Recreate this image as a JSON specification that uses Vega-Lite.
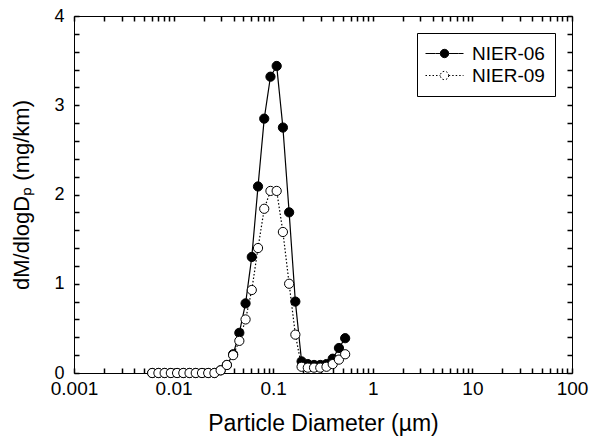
{
  "$schema": "https://vega.github.io/schema/vega-lite/v6.json",
  "width": 498,
  "height": 357,
  "autosize": "none",
  "padding": {"left": 74, "top": 16, "right": 27, "bottom": 63},
  "background": "white",
  "config": {
    "font": "Liberation Sans",
    "view": {"stroke": "black", "strokeWidth": 1},
    "legend": {
      "orient": "none",
      "legendX": 343,
      "legendY": 17,
      "strokeColor": "black",
      "fillColor": "white",
      "padding": 10,
      "labelFont": "Liberation Sans",
      "labelFontSize": 19,
      "labelColor": "black",
      "symbolType": "M-1.9,0H-0.42M0.42,0H1.9M0.42,0A0.42,0.42,0,1,1,-0.42,0A0.42,0.42,0,1,1,0.42,0Z",
      "symbolSize": 400,
      "symbolOffset": 7,
      "symbolStrokeColor": "black",
      "symbolStrokeWidth": 1,
      "labelOffset": 17,
      "rowPadding": 1
    }
  },
  "data": {
    "values": [
      {"series": "NIER-06", "d": 0.006095, "v": 0},
      {"series": "NIER-06", "d": 0.00704, "v": 0},
      {"series": "NIER-06", "d": 0.008128, "v": 0},
      {"series": "NIER-06", "d": 0.009386, "v": 0},
      {"series": "NIER-06", "d": 0.010839, "v": 0},
      {"series": "NIER-06", "d": 0.012516, "v": 0},
      {"series": "NIER-06", "d": 0.014454, "v": 0},
      {"series": "NIER-06", "d": 0.016691, "v": 0},
      {"series": "NIER-06", "d": 0.019275, "v": 0},
      {"series": "NIER-06", "d": 0.022258, "v": 0},
      {"series": "NIER-06", "d": 0.025704, "v": 0},
      {"series": "NIER-06", "d": 0.029683, "v": 0.03},
      {"series": "NIER-06", "d": 0.034277, "v": 0.09},
      {"series": "NIER-06", "d": 0.039582, "v": 0.21},
      {"series": "NIER-06", "d": 0.045709, "v": 0.45},
      {"series": "NIER-06", "d": 0.052783, "v": 0.78},
      {"series": "NIER-06", "d": 0.060954, "v": 1.3},
      {"series": "NIER-06", "d": 0.070388, "v": 2.09},
      {"series": "NIER-06", "d": 0.081283, "v": 2.85},
      {"series": "NIER-06", "d": 0.093864, "v": 3.32},
      {"series": "NIER-06", "d": 0.108393, "v": 3.44},
      {"series": "NIER-06", "d": 0.125171, "v": 2.75},
      {"series": "NIER-06", "d": 0.144544, "v": 1.8},
      {"series": "NIER-06", "d": 0.166916, "v": 0.8},
      {"series": "NIER-06", "d": 0.192752, "v": 0.13},
      {"series": "NIER-06", "d": 0.222584, "v": 0.1},
      {"series": "NIER-06", "d": 0.25704, "v": 0.09},
      {"series": "NIER-06", "d": 0.29683, "v": 0.09},
      {"series": "NIER-06", "d": 0.342768, "v": 0.1},
      {"series": "NIER-06", "d": 0.395822, "v": 0.16},
      {"series": "NIER-06", "d": 0.457088, "v": 0.28},
      {"series": "NIER-06", "d": 0.527837, "v": 0.39},
      {"series": "NIER-09", "d": 0.006095, "v": 0},
      {"series": "NIER-09", "d": 0.00704, "v": 0},
      {"series": "NIER-09", "d": 0.008128, "v": 0},
      {"series": "NIER-09", "d": 0.009386, "v": 0},
      {"series": "NIER-09", "d": 0.010839, "v": 0},
      {"series": "NIER-09", "d": 0.012516, "v": 0},
      {"series": "NIER-09", "d": 0.014454, "v": 0},
      {"series": "NIER-09", "d": 0.016691, "v": 0},
      {"series": "NIER-09", "d": 0.019275, "v": 0},
      {"series": "NIER-09", "d": 0.022258, "v": 0},
      {"series": "NIER-09", "d": 0.025704, "v": 0},
      {"series": "NIER-09", "d": 0.029683, "v": 0.03},
      {"series": "NIER-09", "d": 0.034277, "v": 0.09},
      {"series": "NIER-09", "d": 0.039582, "v": 0.2},
      {"series": "NIER-09", "d": 0.045709, "v": 0.36},
      {"series": "NIER-09", "d": 0.052783, "v": 0.6},
      {"series": "NIER-09", "d": 0.060954, "v": 0.93},
      {"series": "NIER-09", "d": 0.070388, "v": 1.4},
      {"series": "NIER-09", "d": 0.081283, "v": 1.84},
      {"series": "NIER-09", "d": 0.093864, "v": 2.04},
      {"series": "NIER-09", "d": 0.108393, "v": 2.04},
      {"series": "NIER-09", "d": 0.125171, "v": 1.58},
      {"series": "NIER-09", "d": 0.144544, "v": 1.0},
      {"series": "NIER-09", "d": 0.166916, "v": 0.43},
      {"series": "NIER-09", "d": 0.192752, "v": 0.07},
      {"series": "NIER-09", "d": 0.222584, "v": 0.06},
      {"series": "NIER-09", "d": 0.25704, "v": 0.06},
      {"series": "NIER-09", "d": 0.29683, "v": 0.06},
      {"series": "NIER-09", "d": 0.342768, "v": 0.07},
      {"series": "NIER-09", "d": 0.395822, "v": 0.1},
      {"series": "NIER-09", "d": 0.457088, "v": 0.15},
      {"series": "NIER-09", "d": 0.527837, "v": 0.21}
    ]
  },
  "resolve": {"axis": {"x": "independent", "y": "independent"}},
  "layer": [
    {
      "mark": {"type": "line", "color": "black", "strokeWidth": 1.2},
      "encoding": {
        "x": {
          "field": "d", "type": "quantitative",
          "scale": {"type": "log", "domain": [0.001, 100], "nice": false},
          "axis": {
            "orient": "bottom",
            "title": "Particle Diameter (µm)",
            "titleFontSize": 23,
            "titleFontWeight": "normal",
            "titleColor": "black",
            "labelFontSize": 19,
            "labelColor": "black",
            "tickCount": 5,
            "format": "~g",
            "grid": false,
            "ticks": false,
            "domain": false,
            "labelPadding": 6,
            "labelFlush": false,
            "titlePadding": 14
          }
        },
        "y": {
          "field": "v", "type": "quantitative",
          "scale": {"domain": [0, 4], "nice": false},
          "axis": {
            "orient": "left",
            "title": "dM/dlogDₚ (mg/km)",
            "titleFontSize": 22,
            "titleFontWeight": "normal",
            "titleColor": "black",
            "labelFontSize": 18,
            "labelColor": "black",
            "tickCount": 4,
            "format": "d",
            "grid": false,
            "ticks": false,
            "domain": false,
            "labelPadding": 10,
            "titlePadding": 20
          }
        },
        "strokeDash": {
          "field": "series", "type": "nominal",
          "scale": {"domain": ["NIER-06", "NIER-09"], "range": [[10, 0], [1.5, 2]]},
          "legend": {"title": null}
        }
      }
    },
    {
      "mark": {"type": "point", "shape": "circle", "filled": true, "stroke": "black", "strokeWidth": 1, "size": 85, "opacity": 1},
      "encoding": {
        "x": {
          "field": "d", "type": "quantitative",
          "scale": {"type": "log", "domain": [0.001, 100], "nice": false},
          "axis": {
            "orient": "top",
            "title": null,
            "labels": false,
            "ticks": false,
            "domain": false,
            "tickCount": 50,
            "grid": true,
            "gridColor": "black",
            "gridWidth": 1.5,
            "gridOpacity": 1,
            "gridDash": [5, 347, 5, 1000]
          }
        },
        "y": {
          "field": "v", "type": "quantitative",
          "scale": {"domain": [0, 4], "nice": false},
          "axis": {
            "orient": "right",
            "title": null,
            "labels": false,
            "ticks": false,
            "domain": false,
            "tickCount": 20,
            "grid": true,
            "gridColor": "black",
            "gridWidth": 1.5,
            "gridOpacity": 1,
            "gridDash": [5, 488, 5, 1000]
          }
        },
        "fill": {
          "field": "series", "type": "nominal",
          "scale": {"domain": ["NIER-06", "NIER-09"], "range": ["black", "white"]},
          "legend": {"title": null}
        }
      }
    }
  ]
}
